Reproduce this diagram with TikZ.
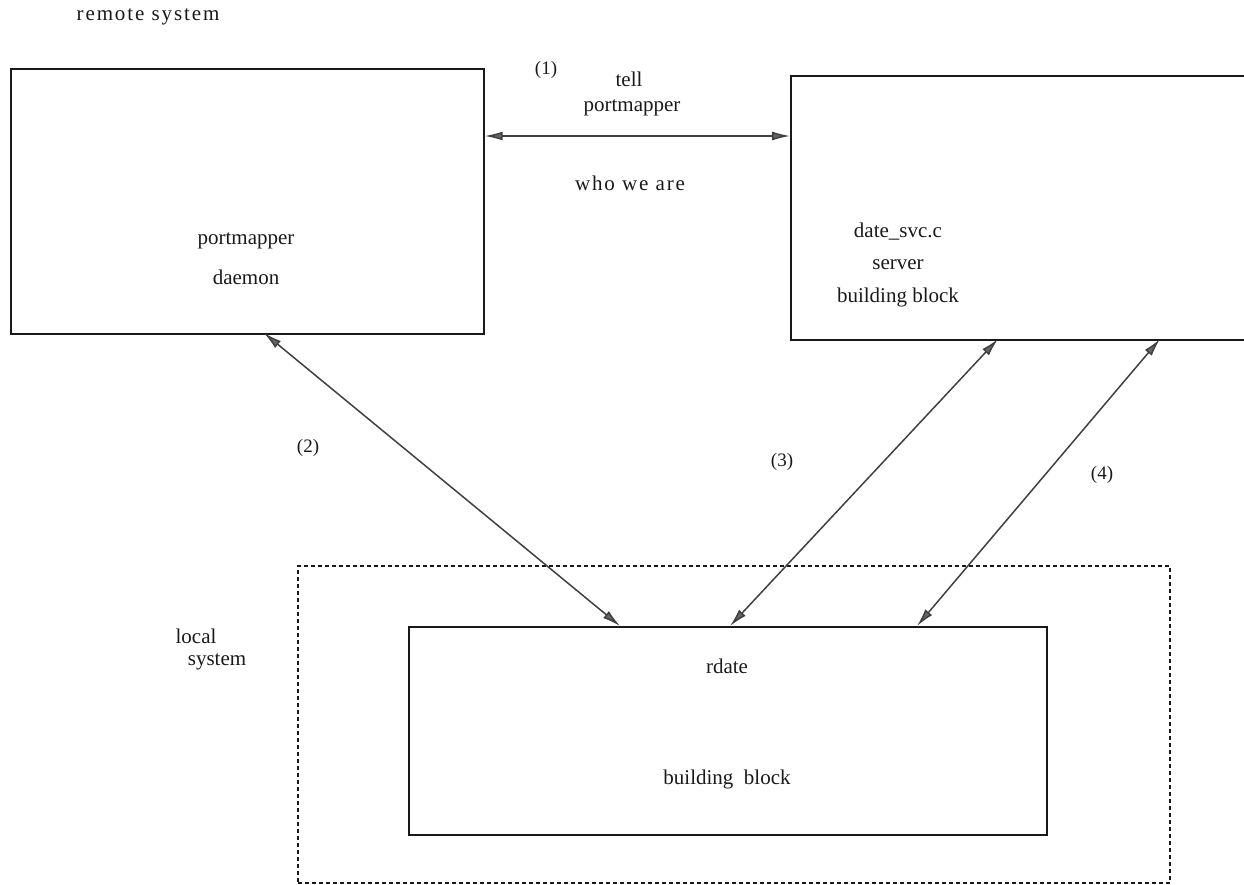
\documentclass[tikz,border=0pt]{standalone}
\usepackage{fontspec}
\setmainfont{Liberation Serif}
\usetikzlibrary{arrows.meta}
\tikzset{
  box/.style={draw=black!90, line width=1.7pt, inner sep=0pt, anchor=north west},
  lbl/.style={inner sep=0pt, font=\fontsize{21}{24}\selectfont, text=black!90},
  widelbl/.style={inner sep=0pt, font=\fontsize{21}{24}\selectfont\addfontfeatures{LetterSpace=9}, text=black!90},
  num/.style={inner sep=0pt, font=\fontsize{19}{22}\selectfont, text=black!90},
  biarrow/.style={draw=black!75, line width=1.5pt,
     {Latex[length=18pt,width=9pt,fill=black!60]}-{Latex[length=18pt,width=9pt,fill=black!60]}},
  dotbox/.style={draw=black!90, line width=1.6pt, dash pattern=on 4pt off 3pt, inner sep=0pt, anchor=north west}
}
\begin{document}
\begin{tikzpicture}[x=1pt,y=-1pt]
\useasboundingbox (0,0) rectangle (1244,884);
\clip (0,0) rectangle (1244,884);
% boxes
\node[box, minimum width=473pt, minimum height=265pt] (pm) at (10,68) {};
\node[box, minimum width=480pt, minimum height=264pt] (svc) at (790,75) {};
\node[dotbox, minimum width=872pt, minimum height=317pt] (loc) at (297,565) {};
\node[box, minimum width=638pt, minimum height=208pt] (rd) at (408,626) {};
% texts
\node[widelbl] (trs) at (148,17) {remote system};
\node[num] (t1) at (546,70) {(1)};
\node[lbl] (ttell) at (629,79) {tell};
\node[lbl] (tpm) at (632,108) {portmapper};
\node[widelbl] (twho) at (630,183) {who we are};
\node[lbl] (pm1) at (246,241) {portmapper};
\node[lbl] (pm2) at (246,277) {daemon};
\node[lbl] (sv1) at (898,232) {date\_svc.c};
\node[lbl] (sv2) at (898,265) {server};
\node[lbl] (sv3) at (898,297) {building block};
\node[num] (n2) at (308,448) {(2)};
\node[num] (n3) at (782,462) {(3)};
\node[num] (n4) at (1102,475) {(4)};
\node[lbl] (loc1) at (196,636) {local};
\node[lbl] (loc2) at (217,662) {system};
\node[lbl] (rd1) at (727,666) {rdate};
\node[lbl] (rd2) at (727,779) {building\ \ block};
% connector end points on the boxes
\coordinate (h1) at (pm.east |- 0,136);
\coordinate (h2) at (svc.west |- 0,136);
\coordinate (a2) at (264,333);
\coordinate (b2) at (620,626);
\coordinate (a3) at (998,339);
\coordinate (b3) at (730,626);
\coordinate (a4) at (1160,339);
\coordinate (b4) at (917,626);
\draw[biarrow] (h1) -- (h2);
\draw[biarrow] (a2) -- (b2);
\draw[biarrow] (a3) -- (b3);
\draw[biarrow] (a4) -- (b4);
\end{tikzpicture}
\end{document}
